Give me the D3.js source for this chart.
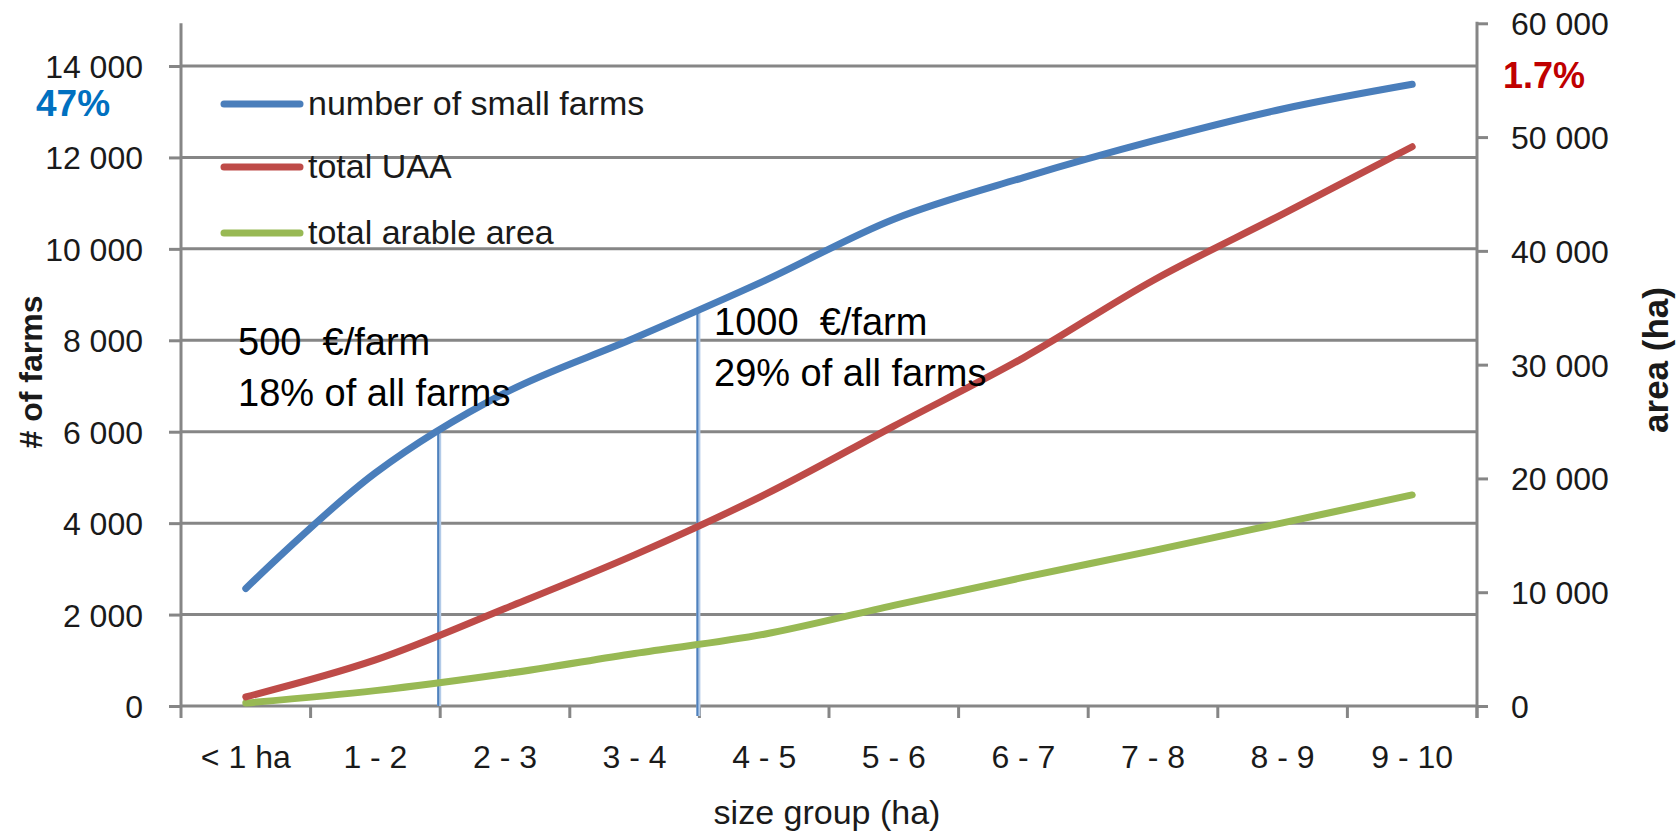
<!DOCTYPE html>
<html>
<head>
<meta charset="utf-8">
<script src="https://cdn.jsdelivr.net/npm/d3@7"></script>
<style>
  html, body { margin: 0; padding: 0; background: #ffffff; }
  svg { display: block; font-family: "Liberation Sans", Arial, sans-serif; }
  .pre { white-space: pre; }
</style>
</head>
<body>
<svg id="chart" width="1679" height="832"></svg>
<script>
// ---- data ----
const categories = ["< 1 ha", "1 - 2", "2 - 3", "3 - 4", "4 - 5", "5 - 6", "6 - 7", "7 - 8", "8 - 9", "9 - 10"];
const farms  = [2570, 5100, 6850, 8050, 9300, 10650, 11560, 12360, 13060, 13600];
const uaa    = [800, 4050, 8570, 13280, 18550, 24600, 30600, 37400, 43230, 49150];
const arable = [260, 1350, 2830, 4620, 6310, 8850, 11300, 13660, 16100, 18550];
const leftTicks  = [0, 2000, 4000, 6000, 8000, 10000, 12000, 14000];
const rightTicks = [0, 10000, 20000, 30000, 40000, 50000, 60000];
const seriesNames = ["number of small farms", "total UAA", "total arable area"];
// annotations: vertical marker at the boundary before a category, top at # of farms value
const markerBefore = ["2 - 3", "4 - 5"];
const markerTop    = [6005, 8665];
const markerText1  = ["500  €/farm", "1000  €/farm"];
const markerText2  = ["18% of all farms", "29% of all farms"];
const leftNote = "47%";
const rightNote = "1.7%";

// ---- layout ----
const L = 181, R = 1477, B = 706, T = 23.3, Y14 = 66;
const svg = d3.select("#chart");
const x = d3.scaleBand().domain(categories).range([L, R]).padding(0);
const yL = d3.scaleLinear().domain([0, 14000]).range([B, Y14]);
const yR = d3.scaleLinear().domain([0, 60000]).range([B, T]);
const cx = c => x(c) + x.bandwidth() / 2;
const gridColor = "#868686";
const textColor = "#1a1a1a";

// gridlines
svg.append("g").selectAll("line").data(leftTicks).join("line")
  .attr("x1", L).attr("x2", R).attr("y1", d => yL(d)).attr("y2", d => yL(d))
  .attr("stroke", gridColor).attr("stroke-width", 3);

// left axis
const gl = svg.append("g").attr("transform", `translate(${L},0)`)
  .call(d3.axisLeft(yL).tickValues(leftTicks).tickSize(12).tickPadding(26)
    .tickFormat(d => d3.format(",")(d).replace(/,/g, " ")));
gl.select(".domain").remove();
gl.selectAll(".tick line").attr("stroke", gridColor).attr("stroke-width", 3);
gl.selectAll(".tick text").attr("font-size", 32).attr("fill", textColor)
  .attr("font-family", "Liberation Sans, Arial, sans-serif").attr("dy", "0.36em");
svg.append("line").attr("x1", L).attr("x2", L).attr("y1", T).attr("y2", B)
  .attr("stroke", gridColor).attr("stroke-width", 3);

// right axis
const gr = svg.append("g").attr("transform", `translate(${R},0)`)
  .call(d3.axisRight(yR).tickValues(rightTicks).tickSize(11).tickPadding(23)
    .tickFormat(d => d3.format(",")(d).replace(/,/g, " ")));
gr.select(".domain").remove();
gr.selectAll(".tick line").attr("stroke", gridColor).attr("stroke-width", 3);
gr.selectAll(".tick text").attr("font-size", 32).attr("fill", textColor)
  .attr("font-family", "Liberation Sans, Arial, sans-serif").attr("dy", "0.36em");
svg.append("line").attr("x1", R).attr("x2", R).attr("y1", T - 1.5).attr("y2", B + 12)
  .attr("stroke", gridColor).attr("stroke-width", 3);

// bottom axis: ticks at category boundaries
const bounds = categories.map(c => x(c)).concat([R]);
svg.append("g").selectAll("line").data(bounds).join("line")
  .attr("x1", d => d).attr("x2", d => d).attr("y1", B).attr("y2", B + 12)
  .attr("stroke", gridColor).attr("stroke-width", 3);
svg.append("g").selectAll("text").data(categories).join("text")
  .attr("x", d => cx(d)).attr("y", 768).attr("text-anchor", "middle")
  .attr("font-size", 32).attr("fill", textColor).text(d => d);

// axis titles
svg.append("text").attr("transform", "translate(42,372) rotate(-90)")
  .attr("text-anchor", "middle").attr("font-size", 32).attr("font-weight", "bold")
  .attr("fill", textColor).text("# of farms");
svg.append("text").attr("transform", "translate(1668,360) rotate(-90)")
  .attr("text-anchor", "middle").attr("font-size", 35).attr("font-weight", "bold")
  .attr("fill", textColor).text("area (ha)");
svg.append("text").attr("x", 827).attr("y", 824).attr("text-anchor", "middle")
  .attr("font-size", 34).attr("fill", textColor).text("size group (ha)");

// marker vertical lines
markerBefore.forEach((c, i) => {
  const xx = x(c);
  const bottom = i === 0 ? B : B + 10;
  svg.append("line").attr("x1", xx - 1).attr("x2", xx - 1)
    .attr("y1", yL(markerTop[i])).attr("y2", bottom)
    .attr("stroke", "#b3cbe8").attr("stroke-width", 4);
  svg.append("line").attr("x1", xx - 2).attr("x2", xx - 2)
    .attr("y1", yL(markerTop[i])).attr("y2", bottom)
    .attr("stroke", "#4f81bd").attr("stroke-width", 2);
});

// series
const curve = d3.curveCatmullRom.alpha(0.5);
const lineL = d3.line().x((d, i) => cx(categories[i])).y(d => yL(d)).curve(curve);
const lineR = d3.line().x((d, i) => cx(categories[i])).y(d => yR(d)).curve(curve);
const colors = ["#4a7ebb", "#be4b48", "#98b954"];
svg.append("path").attr("d", lineR(arable)).attr("fill", "none")
  .attr("stroke", colors[2]).attr("stroke-width", 7).attr("stroke-linecap", "round");
svg.append("path").attr("d", lineR(uaa)).attr("fill", "none")
  .attr("stroke", colors[1]).attr("stroke-width", 7).attr("stroke-linecap", "round");
svg.append("path").attr("d", lineL(farms)).attr("fill", "none")
  .attr("stroke", colors[0]).attr("stroke-width", 7).attr("stroke-linecap", "round");

// annotation text
markerBefore.forEach((c, i) => {
  const tx = i === 0 ? 238 : 714;
  const ty = i === 0 ? 355 : 335;
  svg.append("text").attr("class", "pre").attr("x", tx).attr("y", ty)
    .attr("font-size", 38).attr("fill", "#000").text(markerText1[i]);
  svg.append("text").attr("class", "pre").attr("x", tx).attr("y", ty + 51)
    .attr("font-size", 38).attr("fill", "#000").text(markerText2[i]);
});

// legend
const legY = [104, 167, 233];
seriesNames.forEach((n, i) => {
  svg.append("line").attr("x1", 224).attr("x2", 300).attr("y1", legY[i]).attr("y2", legY[i])
    .attr("stroke", colors[i]).attr("stroke-width", 7).attr("stroke-linecap", "round");
  svg.append("text").attr("x", 308).attr("y", legY[i] + 11)
    .attr("font-size", 34).attr("fill", textColor).text(n);
});

// notes
svg.append("text").attr("x", 36).attr("y", 116).attr("font-size", 37).attr("font-weight", "bold")
  .attr("fill", "#0070c0").text(leftNote);
svg.append("text").attr("x", 1503).attr("y", 88).attr("font-size", 36).attr("font-weight", "bold")
  .attr("fill", "#c00000").text(rightNote);
</script>
</body>
</html>
